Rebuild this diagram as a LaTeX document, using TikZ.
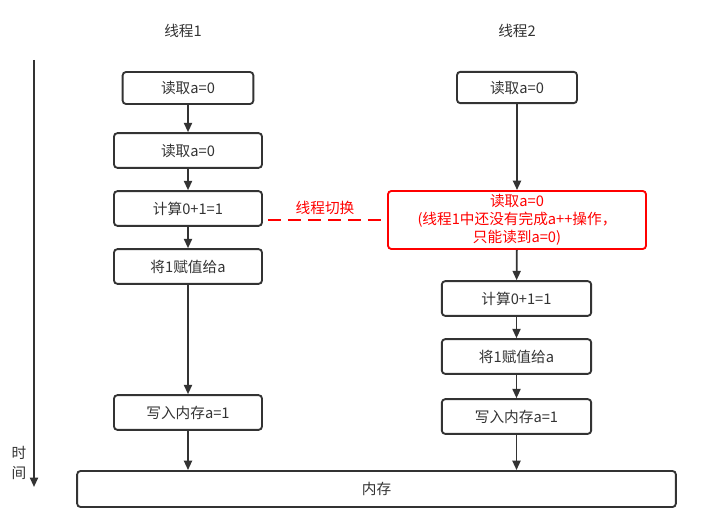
\documentclass[tikz,border=0pt]{standalone}
\usepackage{fontspec}
\setmainfont{Noto Sans CJK SC}
\usetikzlibrary{arrows.meta}
\definecolor{boxgray}{HTML}{333333}
\definecolor{switchred}{HTML}{FF0000}

\begin{document}
\begin{tikzpicture}[x=0.75pt,y=-0.75pt]
    \tikzset{
        stepbox/.style={
            draw=boxgray, line width=1.4pt, rounded corners=2.5pt,
            text=boxgray, inner sep=0pt,
            minimum width=111pt, minimum height=26pt,
            font=\fontsize{11pt}{13pt}\selectfont,
        },
        redbox/.style={
            stepbox, draw=switchred, text=switchred, align=center,
            font=\fontsize{11pt}{13.5pt}\selectfont,
        },
        flow/.style={
            draw=boxgray, line width=1.4pt,
            -{Triangle[width=6pt,length=7pt]},
        },
        switchline/.style={
            draw=switchred, line width=2pt, dash pattern=on 10pt off 5pt,
        },
        title/.style={text=boxgray, font=\fontsize{11pt}{13pt}\selectfont},
    }

    \useasboundingbox (0,0) rectangle (702,520);

    % Titles
    \node[title] (t1) at (183,31) {线程1};
    \node[title] (t2) at (517,31) {线程2};

    % Thread 1
    \node[stepbox, minimum width=98pt, minimum height=24pt] (l1) at (188,88) {读取a=0};
    \node[stepbox] (l2) at (188,150.5) {读取a=0};
    \node[stepbox] (l3) at (188,208.5) {计算0+1=1};
    \node[stepbox] (l4) at (188,266.5) {将1赋值给a};
    \node[stepbox] (l5) at (188,412.5) {写入内存a=1};

    % Thread 2
    \node[stepbox, minimum width=90pt, minimum height=23.5pt] (r1) at (517,87.5) {读取a=0};
    \node[redbox, minimum width=193.5pt, minimum height=43.5pt] (r2) at (517,220)
        {读取a=0\\(线程1中还没有完成a++操作，\\只能读到a=0)};
    \node[stepbox, minimum width=112pt] (r3) at (516.5,298.5) {计算0+1=1};
    \node[stepbox, minimum width=112pt] (r4) at (516.5,356.5) {将1赋值给a};
    \node[stepbox, minimum width=112pt] (r5) at (516.5,416.5) {写入内存a=1};

    % Memory
    \node[stepbox, minimum width=449pt, minimum height=27pt] (mem) at (376.5,489) {内存};

    % Arrows
    \draw[flow] (l1) -- (l2);
    \draw[flow] (l2) -- (l3);
    \draw[flow] (l3) -- (l4);
    \draw[flow] (l4) -- (l5);
    \draw[flow] (l5) -- (l5 |- mem.north);
    \draw[flow] (r1) -- (r2);
    \draw[flow] (r2) -- (r3);
    \draw[flow] (r3) -- (r4);
    \draw[flow] (r4) -- (r5);
    \draw[flow] (r5) -- (r5 |- mem.north);

    % Thread switch
    \draw[switchline] ([xshift=3.75pt]l3.east |- r2.west) -- (r2.west);
    \node[text=switchred, font=\fontsize{11pt}{13pt}\selectfont] (sw) at (325,208) {线程切换};

    % Time axis
    \coordinate (ttop) at (34,60);
    \coordinate (tbot) at (34,487);
    \draw[flow] (ttop) -- (tbot);
    \node[title, align=center, font=\fontsize{11pt}{15pt}\selectfont] (tl) at (19,463) {时\\间};

\end{tikzpicture}
\end{document}
